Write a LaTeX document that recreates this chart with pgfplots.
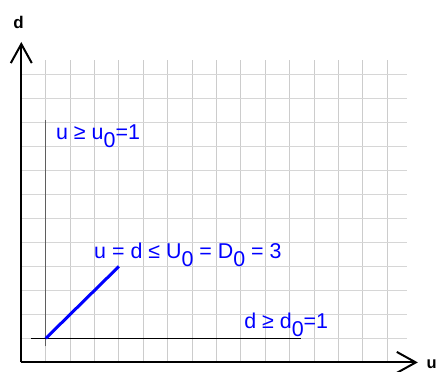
\documentclass[border=0pt]{standalone}
\usepackage{pgfplots}
\pgfplotsset{compat=1.18}
\usepackage{fontspec}
\setmainfont{Liberation Sans}
\usetikzlibrary{arrows.meta}

\definecolor{pureblue}{RGB}{0,0,255}
\definecolor{innergray}{RGB}{95,95,95}

% subscript zero, as in the drawing
\newcommand{\sub}[1]{\raisebox{-7.5bp}{#1}}

\begin{document}
\begin{tikzpicture}
\begin{axis}[
    x=24.4bp, y=24bp,
    xmin=0, xmax=15.8,
    ymin=0, ymax=12.6,
    axis lines=left,
    axis line style={line width=2bp, -{Straight Barb[length=19bp,width=21bp]}},
    x axis line style={shorten >=-11bp},
    y axis line style={shorten >=-18bp},
    xtick={1,...,15}, ytick={1,...,12},
    xticklabels={}, yticklabels={},
    major tick length=0pt,
    tick style={draw=none},
    grid=major,
    x grid style={color=black!20, line width=1bp},
    y grid style={color=black!16, line width=1bp},
    clip=false,
    font=\fontsize{21.5}{23}\selectfont,
]
% inner axes
\addplot[innergray, line width=1.5bp] coordinates {(1,0.67) (1,10.08)};
\addplot[black, line width=1.2bp] coordinates {(0.40,1) (11.46,1)};
% u = d segment
\addplot[pureblue, line width=3bp] coordinates {(1,1) (4,4)};

\node[anchor=base west, inner sep=0pt, text=pureblue] at (axis cs:1.42,9.27) {u ≥ u\sub{0}=1};
\node[anchor=base west, inner sep=0pt, text=pureblue] at (axis cs:2.98,4.31) {u = d ≤ U\sub{0} = D\sub{0} = 3};
\node[anchor=base west, inner sep=0pt, text=pureblue] at (axis cs:9.13,1.40) {d ≥ d\sub{0}=1};

\node[anchor=base west, inner sep=0pt, font=\fontsize{17}{18}\selectfont\bfseries] at (axis cs:-0.33,13.93) {d};
\node[anchor=base west, inner sep=0pt, font=\fontsize{16.5}{18}\selectfont\bfseries] at (axis cs:16.6,-0.25) {u};

\coordinate (bl) at (axis cs:-0.873,-0.3875);
\coordinate (tr) at (axis cs:17.2,15.10);
\end{axis}
\pgfresetboundingbox
\useasboundingbox (bl) rectangle (tr);
\end{tikzpicture}
\end{document}
